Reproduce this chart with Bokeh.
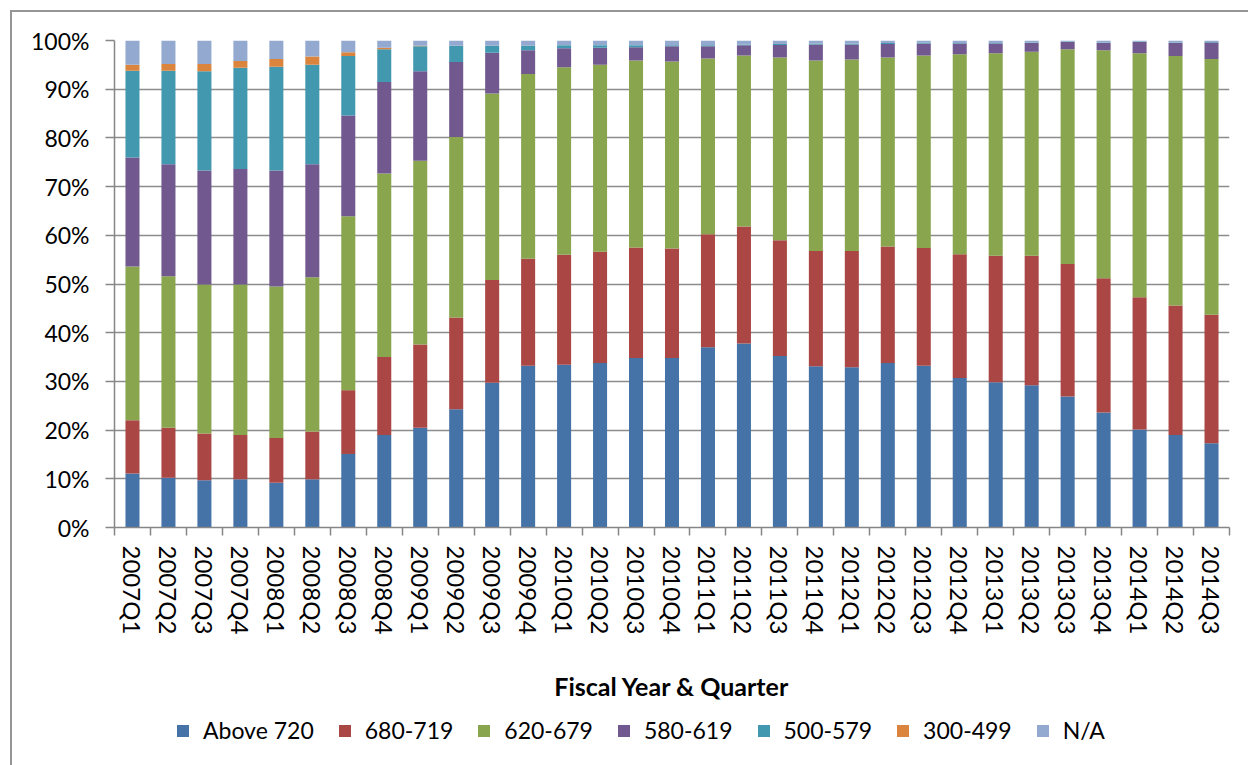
from bokeh.plotting import figure
from bokeh.layouts import column
from bokeh.models import (ColumnDataSource, FixedTicker, PrintfTickFormatter, Legend,
                          LegendItem, Range1d)
from bokeh.embed import file_html
from bokeh.resources import INLINE

quarters = ["2007Q1", "2007Q2", "2007Q3", "2007Q4", "2008Q1", "2008Q2", "2008Q3", "2008Q4",
            "2009Q1", "2009Q2", "2009Q3", "2009Q4", "2010Q1", "2010Q2", "2010Q3", "2010Q4",
            "2011Q1", "2011Q2", "2011Q3", "2011Q4", "2012Q1", "2012Q2", "2012Q3", "2012Q4",
            "2013Q1", "2013Q2", "2013Q3", "2013Q4", "2014Q1", "2014Q2", "2014Q3"]

above_720 = [11.1, 10.2, 9.7, 9.9, 9.2, 9.9, 15.1, 19.0, 20.5, 24.3, 29.7, 33.2, 33.4, 33.8, 34.8, 34.8,
             37.0, 37.8, 35.2, 33.1, 32.9, 33.8, 33.2, 30.7, 29.8, 29.2, 26.9, 23.6, 20.1, 19.0, 17.3]
s680_719 = [10.9, 10.3, 9.6, 9.1, 9.2, 9.8, 13.1, 16.0, 17.1, 18.8, 21.1, 22.0, 22.6, 22.8, 22.7, 22.5,
            23.2, 24.0, 23.8, 23.7, 23.9, 23.9, 24.2, 25.4, 26.0, 26.6, 27.2, 27.6, 27.2, 26.6, 26.4]
s620_679 = [31.6, 31.1, 30.6, 30.9, 31.1, 31.7, 35.7, 37.7, 37.7, 37.1, 38.3, 37.9, 38.5, 38.4, 38.4, 38.4,
            36.1, 35.1, 37.5, 39.1, 39.3, 38.8, 39.5, 41.1, 41.6, 41.9, 44.1, 46.8, 50.1, 51.2, 52.5]
s580_619 = [22.4, 23.0, 23.4, 23.7, 23.8, 23.2, 20.7, 18.8, 18.4, 15.4, 8.4, 4.9, 3.9, 3.5, 2.7, 3.1,
            2.5, 2.1, 2.6, 3.3, 3.1, 2.8, 2.5, 2.2, 2.0, 1.8, 1.5, 1.5, 2.3, 2.7, 3.4]
s500_579 = [17.8, 19.2, 20.4, 20.8, 21.3, 20.4, 12.2, 6.7, 5.1, 3.3, 1.4, 0.9, 0.6, 0.5, 0.4, 0.2,
            0.2, 0.2, 0.2, 0.2, 0.2, 0.2, 0.2, 0.1, 0.1, 0.1, 0.1, 0.1, 0.1, 0.1, 0.1]
s300_499 = [1.2, 1.4, 1.5, 1.4, 1.6, 1.7, 0.8, 0.3, 0.1, 0.0, 0.0, 0.0, 0.0, 0.0, 0.0, 0.0,
            0.0, 0.0, 0.0, 0.0, 0.0, 0.0, 0.0, 0.0, 0.0, 0.0, 0.0, 0.0, 0.0, 0.0, 0.0]
s_na = [5.0, 4.8, 4.8, 4.2, 3.8, 3.3, 2.4, 1.5, 1.1, 1.1, 1.1, 1.1, 1.0, 1.0, 1.0, 1.0,
        1.0, 0.8, 0.7, 0.6, 0.6, 0.5, 0.4, 0.5, 0.5, 0.4, 0.2, 0.4, 0.2, 0.4, 0.3]

series_names = ["Above 720", "680-719", "620-679", "580-619", "500-579", "300-499", "N/A"]
series_values = [above_720, s680_719, s620_679, s580_619, s500_579, s300_499, s_na]
colors = ["#4572A7", "#AA4643", "#89A54E", "#71588F", "#4198AF", "#DB843D", "#93A9CF"]

n = len(quarters)
keys = ["s%d" % i for i in range(len(series_names))]
data = {"x": [i + 0.5 for i in range(n)]}
for k, vals in zip(keys, series_values):
    data[k] = vals
source = ColumnDataSource(data)

FONT = "Lato"

p = figure(width=1236, height=692, output_backend="svg", toolbar_location=None,
           x_range=Range1d(0, n), y_range=Range1d(0, 100),
           min_border_left=102, min_border_right=19, min_border_top=28, min_border_bottom=174)
p.outline_line_color = None
p.background_fill_color = "white"
p.border_fill_color = "white"

renderers = p.vbar_stack(keys, x="x", width=0.39, source=source, color=colors, line_color=None)

# y axis
p.yaxis.ticker = FixedTicker(ticks=list(range(0, 101, 10)))
p.yaxis.formatter = PrintfTickFormatter(format="%d%%")
p.yaxis.axis_line_color = "#868686"
p.yaxis.axis_line_width = 1.5
p.yaxis.major_tick_line_color = "#868686"
p.yaxis.major_tick_line_width = 1.5
p.yaxis.major_tick_out = 9
p.yaxis.major_tick_in = 0
p.yaxis.minor_tick_line_color = None
p.yaxis.major_label_text_font = FONT
p.yaxis.major_label_text_font_size = "23px"
p.yaxis.major_label_text_color = "black"
p.yaxis.major_label_standoff = 16

# x axis
p.xaxis.ticker = FixedTicker(ticks=[i + 0.5 for i in range(n)], minor_ticks=list(range(0, n + 1)))
p.xaxis.major_label_overrides = {i + 0.5: q for i, q in enumerate(quarters)}
p.xaxis.major_label_orientation = "vertical"
p.xaxis.major_label_text_font = FONT
p.xaxis.major_label_text_font_size = "24px"
p.xaxis.major_label_text_color = "black"
p.xaxis.major_tick_line_color = None
p.xaxis.major_tick_out = 0
p.xaxis.major_tick_in = 0
p.xaxis.minor_tick_line_color = "#868686"
p.xaxis.minor_tick_line_width = 1.5
p.xaxis.minor_tick_out = 8
p.xaxis.minor_tick_in = 0
p.xaxis.major_label_standoff = 10
p.xaxis.axis_line_color = "#868686"
p.xaxis.axis_line_width = 1.5
p.xaxis.axis_label = "Fiscal Year & Quarter"
p.xaxis.axis_label_text_font = FONT
p.xaxis.axis_label_text_font_style = "bold"
p.xaxis.axis_label_text_font_size = "25px"
p.xaxis.axis_label_text_color = "black"
p.xaxis.axis_label_standoff = 34

p.xgrid.grid_line_color = None
p.ygrid.ticker = FixedTicker(ticks=list(range(10, 101, 10)))
p.ygrid.grid_line_color = "#8c8c8c"
p.ygrid.grid_line_width = 1.5

# legend strip (separate figure so the legend is not clipped by the plot frame);
# its bars use the same data but lie outside its visible y range
lg = figure(width=1236, height=61, output_backend="svg", toolbar_location=None,
            x_range=Range1d(0, n), y_range=Range1d(1000, 1001),
            min_border=0, x_axis_type=None, y_axis_type=None)
lg.outline_line_color = None
lg.grid.visible = False
lg.background_fill_color = "white"
lg.border_fill_color = "white"
legend_renderers = lg.vbar_stack(keys, x="x", width=0.39, source=source, color=colors, line_color=None)

legend = Legend(items=[LegendItem(label=nm, renderers=[r]) for nm, r in zip(series_names, legend_renderers)],
                orientation="horizontal", location=(61, 21))
legend.label_text_font = FONT
legend.label_text_font_size = "23px"
legend.label_text_color = "black"
legend.glyph_width = 15
legend.glyph_height = 15
legend.label_standoff = 13
legend.spacing = 23
legend.padding = 0
legend.margin = 0
legend.border_line_color = None
legend.background_fill_alpha = 0
lg.add_layout(legend, "center")

layout = column(p, lg, spacing=0)
layout.styles = {"margin-left": "10px", "margin-top": "10px",
                 "border-left": "2px solid #969696", "border-top": "2px solid #969696"}

open("out.html", "w").write(file_html(layout, INLINE))
